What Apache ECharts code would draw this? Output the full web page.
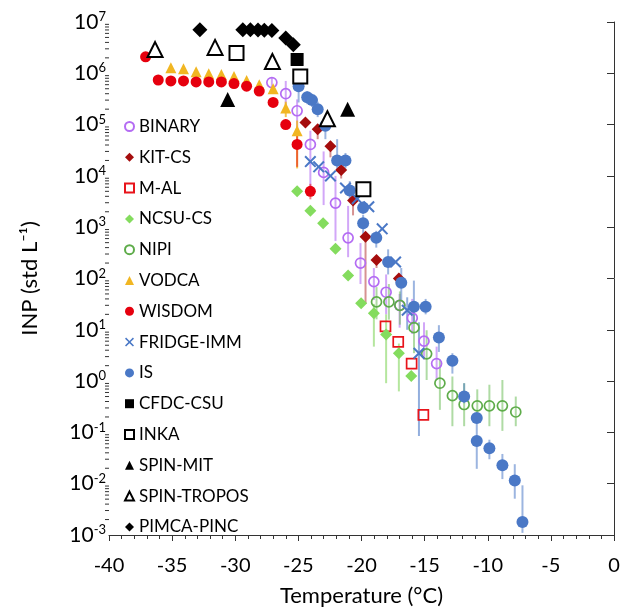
<!DOCTYPE html>
<html><head><meta charset="utf-8">
<script src="https://cdn.jsdelivr.net/npm/echarts@6/dist/echarts.min.js"></script>
<style>html,body{margin:0;padding:0;background:#fff}#c{width:624px;height:612px}</style>
</head><body><div id="c"></div>
<script>
// ---------------- data ----------------
const xTicks = [-40, -35, -30, -25, -20, -15, -10, -5, 0];
const yTickExponents = [-3, -2, -1, 0, 1, 2, 3, 4, 5, 6, 7];
const yMinorMult = [2, 3, 4, 5, 6, 7, 8, 9];

const binaryT  = [-27.1, -26.0, -25.1, -24.05, -23.0, -22.06, -21.06, -20.08, -19.02, -18.05, -16.98, -15.98, -15.05, -14.05];
const binaryV  = [6.6e5, 4.0e5, 1.86e5, 4.1e4, 1.17e4, 2950, 620, 200, 87, 54, 30, 17, 6.0, 2.2];
const binaryLo = [5.2e5, 2.3e5, 7.2e4, 5.2e3, 2.7e3, 540, 260, 78, 38, 20, 11, 8.3, 2.6, 1.05];
const binaryHi = [8.3e5, 7.1e5, 3.1e5, 7.6e4, 3.0e4, 1.0e4, 2600, 490, 160, 120, 50, 40, 14, 4.7];

const kitT  = [-24.44, -23.47, -22.46, -21.61, -20.67, -19.68, -18.81, -17.04];
const kitV  = [1.1e5, 8.1e4, 3.8e4, 1.3e4, 3300, 650, 230, 100];
const kitLo = [8.9e4, 5.2e4, 2.3e4, 8.9e3, 1700, 32, 160, 79];
const kitHi = [1.3e5, 1.0e5, 4.8e4, 1.6e4, 4000, 790, 280, 126];

const malT = [-18.1, -17.09, -16.03, -15.1];
const malV = [11.7, 5.8, 2.2, 0.22];

const ncsuT  = [-25.1, -24.05, -23.04, -22.06, -21.06, -20.03, -19.02, -18.05, -17.04, -16.06];
const ncsuV  = [5000, 2100, 1200, 380, 115, 33, 21, 8.1, 3.5, 1.26];
const ncsuLo = [null, null, null, null, null, null, 4.7, 0.91, 0.63, null];
const ncsuHi = [null, null, null, null, null, null, 32, 20, 5.4, null];

const nipiT  = [-18.81, -17.83, -16.96, -15.84, -14.84, -13.79, -12.8, -11.87, -10.83, -9.87, -8.84, -7.78];
const nipiV  = [35, 35, 30, 11, 3.4, 0.91, 0.52, 0.35, 0.33, 0.33, 0.33, 0.25];
const nipiLo = [16, 15.8, 12.6, 3.5, 1.05, 0.275, 0.132, 0.132, 0.155, 0.132, 0.107, 0.132];
const nipiHi = [68, 78, 56, 32, 9.8, 2.6, 1.23, 0.91, 0.69, 0.85, 1.05, 0.50];

const vodcaT  = [-35.1, -34.1, -33.1, -32.1, -31.1, -30.1, -29.1, -28.1, -27.0, -26.0, -25.1];
const vodcaV  = [1.29e6, 1.23e6, 1.07e6, 9.8e5, 9.5e5, 8.7e5, 7.2e5, 6.0e5, 5.0e5, 2.1e5, 7.6e4];
const vodcaLo = [null, null, null, null, null, null, null, null, null, 1.4e5, 1.4e4];
const vodcaHi = [null, null, null, null, null, null, null, null, null, 2.8e5, 1.2e5];

const wisdomT  = [-37.1, -36.1, -35.1, -34.1, -33.1, -32.1, -31.1, -30.1, -29.1, -28.1, -27.0, -26.0, -25.1, -24.05];
const wisdomV  = [2.1e6, 7.4e5, 7.1e5, 7.1e5, 6.8e5, 6.8e5, 6.8e5, 6.3e5, 5.6e5, 4.5e5, 2.7e5, 1.0e5, 4.1e4, 5.0e3];
const wisdomLo = [null, null, null, null, null, null, null, null, null, null, null, null, 1.5e4, 3.5e3];
const wisdomHi = [null, null, null, null, null, null, null, null, null, null, null, null, 6.2e4, 7.0e3];

const fridgeT  = [-24.05, -23.39, -22.46, -21.27, -20.34, -19.42, -18.36, -17.3, -16.38, -15.45];
const fridgeV  = [1.9e4, 1.5e4, 1.0e4, 5.8e3, 3.6e3, 2.5e3, 930, 210, 24, 3.5];
const fridgeLo = [null, null, null, null, null, null, null, null, 10, 0.085];
const fridgeHi = [null, null, null, null, null, null, null, null, 43, 14];

const isT  = [-24.98, -24.3, -23.92, -23.47, -22.86, -21.93, -21.27, -20.93, -19.87, -19.87, -18.83, -17.89, -16.85, -15.85, -14.92, -13.87, -12.8, -11.87, -10.87, -10.87, -9.87, -8.84, -7.86, -7.25];
const isV  = [5.6e5, 3.4e5, 3.0e5, 2.0e5, 9.5e4, 2.0e4, 2.0e4, 5.2e3, 2.4e3, 1.2e3, 620, 210, 83, 28, 28, 7.1, 2.5, 0.50, 0.19, 0.068, 0.049, 0.023, 0.0115, 0.0018];
const isLo = [2.7e5, 2.5e5, 2.2e5, 1.4e5, 5.2e4, 1.2e4, 1.4e4, 3.5e3, 1.8e3, 720, 400, 120, 37, 13, 20, 3.7, 1.4, 0.37, 0.0195, null, 0.030, 0.0123, 0.0051, 0.0011];
const isHi = [7.1e5, 4.5e5, 4.0e5, 2.8e5, 1.3e5, 5.2e4, 2.8e4, 7.9e3, 3.2e3, 1740, 850, 370, 160, 91, 40, 12.3, 3.5, 0.91, 0.224, null, 0.072, 0.038, 0.024, 0.0093];

const cfdcT = [-25.1];
const cfdcV = [1.86e6];
const inkaT = [-29.9, -24.85, -19.85];
const inkaV = [2.5e6, 8.7e5, 5.5e3];
const spinMitT = [-30.6, -21.1];
const spinMitV = [3.1e5, 2.0e5];
const spinTroposT = [-36.35, -31.6, -27.06, -22.7];
const spinTroposV = [2.9e6, 3.2e6, 1.7e6, 1.3e5];
const pimcaT = [-32.8, -29.4, -28.8, -28.2, -27.7, -27.1, -26.0, -25.4];
const pimcaV = [7.1e6, 7.1e6, 7.1e6, 7.0e6, 6.9e6, 6.8e6, 4.9e6, 3.6e6];

// ---------------- styling ----------------
const FONT = 'Lato';
const CROSS = 'path://M0,1.2L1.2,0L5,3.8L8.8,0L10,1.2L6.2,5L10,8.8L8.8,10L5,6.2L1.2,10L0,8.8L3.8,5Z';
const defs = [
  {name:'BINARY', t:binaryT, v:binaryV, lo:binaryLo, hi:binaryHi, symbol:'circle', size:10, fill:'rgba(255,255,255,0)', stroke:'#b46cf3', bw:1.7, bar:'rgba(180,108,243,0.6)'},
  {name:'KIT-CS', t:kitT, v:kitV, lo:kitLo, hi:kitHi, symbol:'diamond', size:12, fill:'#a50d0d', bar:'rgba(165,13,13,0.45)'},
  {name:'M-AL', t:malT, v:malV, symbol:'rect', size:10, fill:'rgba(255,255,255,0)', stroke:'#e8141b', bw:1.7},
  {name:'NCSU-CS', t:ncsuT, v:ncsuV, lo:ncsuLo, hi:ncsuHi, symbol:'diamond', size:12, fill:'#84dc5e', bar:'rgba(132,214,94,0.6)'},
  {name:'NIPI', t:nipiT, v:nipiV, lo:nipiLo, hi:nipiHi, symbol:'circle', size:10, fill:'rgba(255,255,255,0)', stroke:'#5eac4a', bw:1.7, bar:'rgba(110,190,90,0.55)'},
  {name:'VODCA', t:vodcaT, v:vodcaV, lo:vodcaLo, hi:vodcaHi, symbol:'triangle', size:11, fill:'#f1b622', bar:'rgba(241,182,34,0.8)'},
  {name:'WISDOM', t:wisdomT, v:wisdomV, lo:wisdomLo, hi:wisdomHi, symbol:'circle', size:11, fill:'#e6000e', bar:'rgba(230,0,14,0.5)'},
  {name:'FRIDGE-IMM', t:fridgeT, v:fridgeV, lo:fridgeLo, hi:fridgeHi, symbol:CROSS, size:12, fill:'#4a78c6', bar:'rgba(74,120,198,0.6)'},
  {name:'IS', t:isT, v:isV, lo:isLo, hi:isHi, symbol:'circle', size:12, fill:'#4a78c6', bar:'rgba(74,120,198,0.55)'},
  {name:'CFDC-CSU', t:cfdcT, v:cfdcV, symbol:'rect', size:13, fill:'#000'},
  {name:'INKA', t:inkaT, v:inkaV, symbol:'rect', size:14, fill:'#fff', stroke:'#000', bw:2},
  {name:'SPIN-MIT', t:spinMitT, v:spinMitV, symbol:'triangle', size:15, fill:'#000'},
  {name:'SPIN-TROPOS', t:spinTroposT, v:spinTroposV, symbol:'triangle', size:15, fill:'#fff', stroke:'#000', bw:2},
  {name:'PIMCA-PINC', t:pimcaT, v:pimcaV, symbol:'diamond', size:15, fill:'#000'}
];

function errRender(params, api) {
  const x = api.value(0);
  const p1 = api.coord([x, api.value(1)]);
  const p2 = api.coord([x, api.value(2)]);
  return {type:'line', shape:{x1:p1[0], y1:p1[1], x2:p2[0], y2:p2[1]},
          style:{stroke: api.visual('color'), lineWidth: 2}};
}

const series = [];
defs.forEach(d => {
  if (d.lo) {
    const data = [];
    d.t.forEach((t, i) => { if (d.lo[i] != null) data.push([t, d.lo[i], d.hi[i]]); });
    series.push({type:'custom', name:'err-' + d.name, silent:true, z:1,
      renderItem: errRender, encode:{x:0, y:[1, 2]}, itemStyle:{color:d.bar}, data: data});
  }
});
defs.forEach((d, k) => {
  series.push({
    type:'scatter', name:d.name, symbol:d.symbol, symbolSize:d.size, z:2 + k * 0.01,
    itemStyle: d.stroke ? {color:d.fill, borderColor:d.stroke, borderWidth:d.bw, opacity:1}
                        : {color:d.fill, opacity:1},
    data: d.t.map((t, i) => [t, d.v[i]])
  });
});

// log-spaced minor ticks on the y axis
const yTickValues = yTickExponents.map(e => Math.pow(10, e));
const minorData = [];
yTickExponents.slice(0, -1).forEach(e => yMinorMult.forEach(m => minorData.push([xTicks[0], m * Math.pow(10, e)])));
series.push({type:'custom', name:'yminor', silent:true, z:3, clip:false,
  renderItem: (params, api) => {
    const p = api.coord([api.value(0), api.value(1)]);
    return {type:'line', shape:{x1:p[0] - 4, y1:p[1], x2:p[0], y2:p[1]}, style:{stroke:'#333', lineWidth:1}};
  },
  encode:{x:0, y:1}, data: minorData});

const chart = echarts.init(document.getElementById('c'), null, {renderer:'canvas'});
chart.setOption({
  animation:false,
  backgroundColor:'#fff',
  grid:{left:109, right:10, top:22, bottom:72, containLabel:false},
  legend:{
    data: defs.map(d => d.name), orient:'vertical', left:119, top:113,
    itemWidth:9, itemHeight:9, itemGap:13.8,
    selectedMode:false,
    textStyle:{fontFamily:FONT, fontSize:17, color:'#000'}
  },
  xAxis:{
    type:'value', min:xTicks[0], max:xTicks[xTicks.length - 1], interval:5,
    name:'Temperature (°C)', nameLocation:'middle', nameGap:50,
    nameTextStyle:{fontFamily:FONT, fontSize:22, color:'#000'},
    axisLine:{show:true, lineStyle:{color:'#333', width:1}},
    axisTick:{show:true, inside:false, length:6, lineStyle:{color:'#333'}},
    minorTick:{show:true, splitNumber:5, length:4, lineStyle:{color:'#333'}},
    splitLine:{show:false},
    axisLabel:{fontFamily:FONT, fontSize:20, color:'#000', margin:21,
      formatter: v => String(v)}
  },
  yAxis:{
    type:'log', logBase:10, min:yTickValues[0], max:yTickValues[yTickValues.length - 1],
    name:'INP (std L⁻¹)', nameLocation:'middle', nameGap:68,
    nameTextStyle:{fontFamily:FONT, fontSize:22, color:'#000'},
    axisLine:{show:true, lineStyle:{color:'#333', width:1}},
    axisTick:{show:true, inside:false, length:7, customValues: yTickValues, lineStyle:{color:'#333'}},
    splitLine:{show:false},
    axisLabel:{margin:3, customValues: yTickValues,
      formatter: v => '{b|10}{s|' + Math.round(Math.log10(v)) + '}',
      rich:{ b:{fontFamily:FONT, fontSize:21, color:'#000'},
             s:{fontFamily:FONT, fontSize:13, color:'#000', padding:[0,0,10,0]} }
    }
  },
  series: series
});
</script></body></html>
